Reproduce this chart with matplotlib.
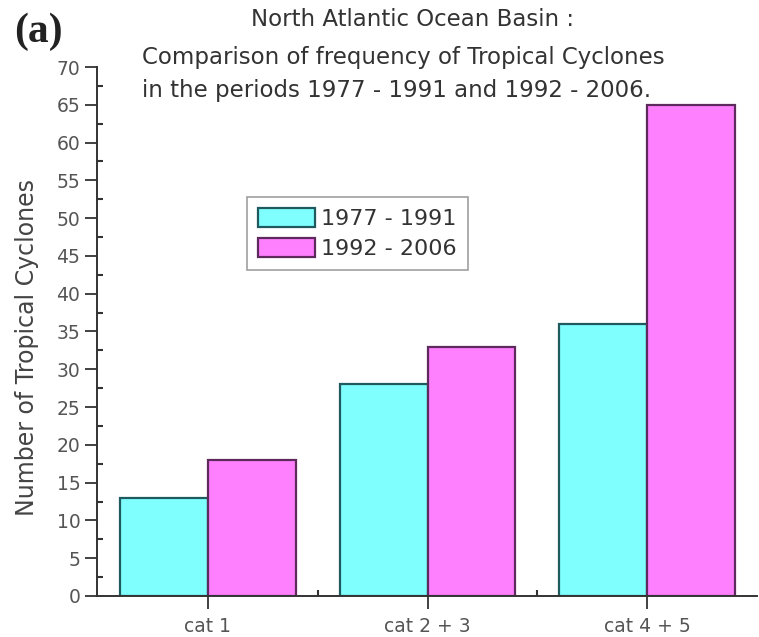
import matplotlib
matplotlib.use("Agg")
import matplotlib.pyplot as plt
import numpy as np

categories = ["cat 1", "cat 2 + 3", "cat 4 + 5"]
series_names = ["1977 - 1991", "1992 - 2006"]
values_1977_1991 = [13, 28, 36]
values_1992_2006 = [18, 33, 65]
y_ticks = list(range(0, 75, 5))

plt.rcParams["font.family"] = ["DejaVu Sans"]

fig = plt.figure(figsize=(7.59, 6.37), dpi=100)
ax = fig.add_axes([0.1278, 0.0644, 0.8695, 0.8304])

x = np.arange(len(categories))
w = 0.4
ax.bar(x - w / 2, values_1977_1991, width=w, color="#80ffff",
       edgecolor="#1f5a5e", linewidth=1.6, label=series_names[0], zorder=2)
ax.bar(x + w / 2, values_1992_2006, width=w, color="#ff80ff",
       edgecolor="#5e2a5e", linewidth=1.6, label=series_names[1], zorder=2)

ax.set_xlim(-0.505, 2.5)
ax.set_ylim(0, 70)
ax.set_xticks(x)
ax.set_xticklabels(categories)
ax.set_xticks(x[:-1] + 0.5, minor=True)
ax.set_yticks(y_ticks)
ax.set_yticks(np.arange(2.5, 70, 5), minor=True)

for s in ("top", "right"):
    ax.spines[s].set_visible(False)
for s in ("left", "bottom"):
    ax.spines[s].set_color("#333333")
    ax.spines[s].set_linewidth(1.4)

ax.tick_params(axis="both", which="major", direction="out", length=9,
               width=1.3, color="#333333", labelcolor="#555555", labelsize=13.5)
ax.tick_params(axis="both", which="minor", direction="in", length=4,
               width=1.5, color="#333333")
ax.tick_params(axis="x", which="major", pad=6)
ax.tick_params(axis="y", which="major", pad=3)

ax.set_ylabel("Number of Tropical Cyclones", fontsize=17, color="#444444")
ax.yaxis.set_label_coords(-0.088, 0.47)

leg = ax.legend(loc="upper left", bbox_to_anchor=(0.227, 0.754),
                fontsize=16, frameon=True, fancybox=False,
                handlelength=2.55, handleheight=0.9, handletextpad=0.3,
                borderpad=0.5, labelspacing=0.42, borderaxespad=0)
leg.get_frame().set_edgecolor("#888888")
leg.get_frame().set_linewidth(1.2)
for t in leg.get_texts():
    t.set_color("#333333")

fig.text(0.544, 0.969, "North Atlantic Ocean Basin :", ha="center", va="center",
         fontsize=16.5, color="#333333")
fig.text(0.187, 0.909, "Comparison of frequency of Tropical Cyclones",
         ha="left", va="center", fontsize=16.5, color="#333333")
fig.text(0.187, 0.858, "in the periods 1977 - 1991 and 1992 - 2006.",
         ha="left", va="center", fontsize=16.5, color="#333333")
fig.text(0.018, 0.95, "(a)", ha="left", va="center", fontsize=30,
         fontweight="bold", family=["Liberation Serif", "DejaVu Serif"],
         color="#222222")

fig.savefig("out.png", dpi=100)
